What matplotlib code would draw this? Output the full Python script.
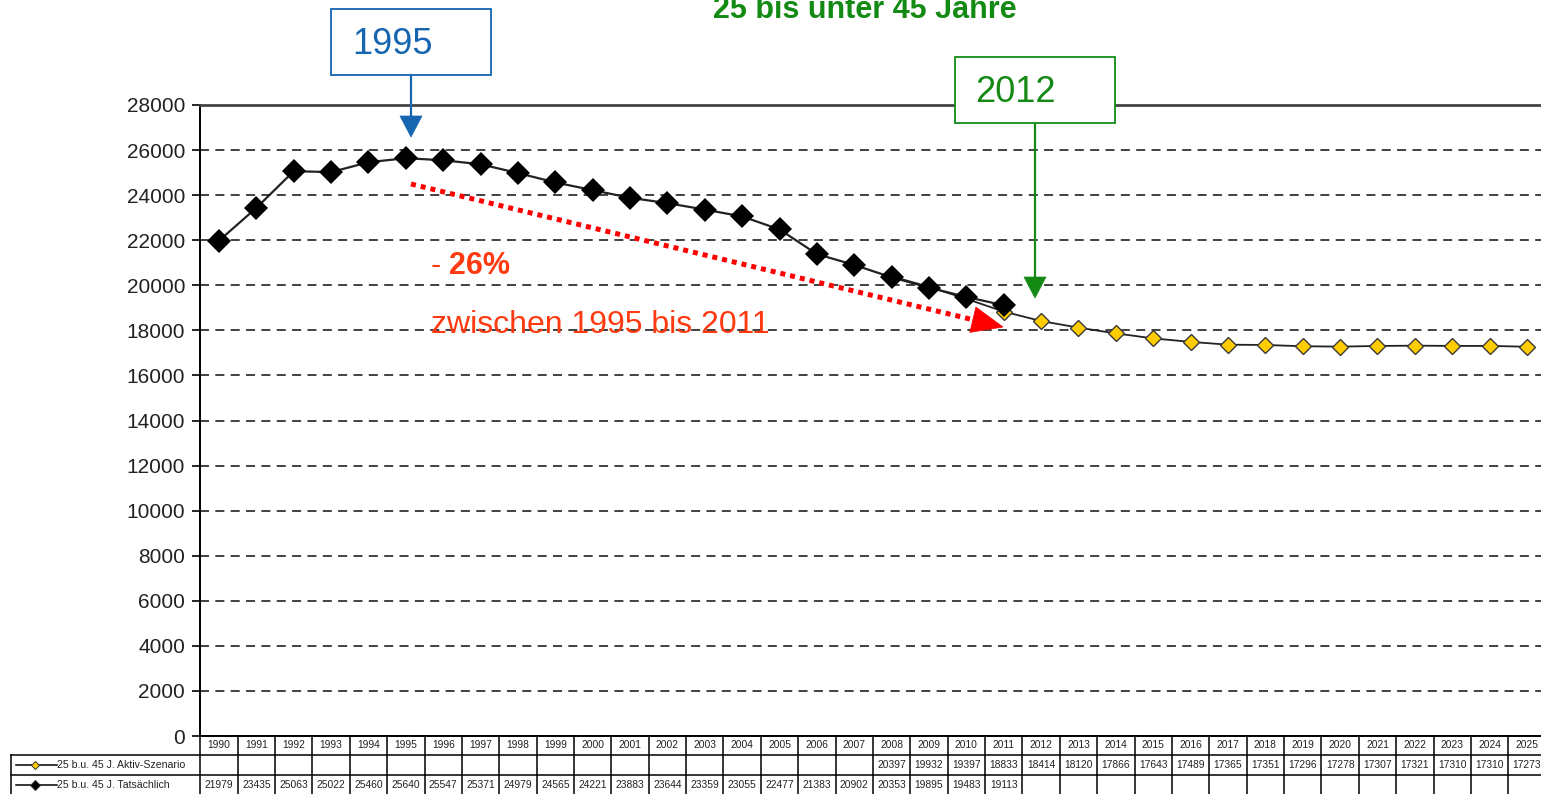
import numpy as np
import matplotlib
matplotlib.use("Agg")
import matplotlib.pyplot as plt
from matplotlib.lines import Line2D
from matplotlib.patches import Polygon, Rectangle
from matplotlib.transforms import blended_transform_factory

plt.rcParams['font.family'] = ['Liberation Sans', 'DejaVu Sans']

# === Daten ===
years = list(range(1990, 2026))

# 25 b.u. 45 J. Tatsaechlich (1990-2011)
actual_years = list(range(1990, 2012))
actual = [21979, 23435, 25063, 25022, 25460, 25640, 25547, 25371, 24979, 24565,
          24221, 23883, 23644, 23359, 23055, 22477, 21383, 20902, 20353, 19895,
          19483, 19113]

# 25 b.u. 45 J. Aktiv-Szenario (2008-2025)
scen_years = list(range(2008, 2026))
scenario = [20397, 19932, 19397, 18833, 18414, 18120, 17866, 17643, 17489, 17365,
            17351, 17296, 17278, 17307, 17321, 17310, 17310, 17273]

label_scen = "25 b.u. 45 J. Aktiv-Szenario"
label_act = "25 b.u. 45 J. Tatsächlich"
title = "25 bis unter 45 Jahre"

W, H = 1541, 794


def px(x, y):
    # Pixelkoordinaten -> Figurenkoordinaten
    return (x / W, 1 - y / H)


fig = plt.figure(figsize=(W / 100, H / 100), dpi=100)
ax_left, ax_top, ax_bot = 200.3, 105, 736
cat_w = 37.37
ax = fig.add_axes([ax_left / W, (H - ax_bot) / H, len(years) * cat_w / W, (ax_bot - ax_top) / H])

xs_act = [years.index(y) for y in actual_years]
xs_scen = [years.index(y) for y in scen_years]

ax.plot(xs_scen, scenario, color='#222222', lw=1.3, marker='D', ms=7.8,
        mfc='#FFCC00', mec='#3a3a3a', mew=1.0, zorder=3)
ax.plot(xs_act, actual, color='#222222', lw=1.6, marker='D', ms=11.8,
        mfc='black', mec='black', mew=0, zorder=4)

ax.set_xlim(-0.5, len(years) - 0.5)
ax.set_ylim(0, 28000)
ax.set_yticks(np.arange(0, 28001, 2000))
ax.set_xticks([])
ax.yaxis.grid(True, linestyle=(0, (5, 3.5)), lw=1.3, color='#333333')
ax.set_axisbelow(True)
ax.tick_params(axis='y', direction='out', length=6, width=1.2, pad=5,
               labelsize=15, labelcolor='#222222')
ax.spines['right'].set_visible(False)
ax.spines['top'].set_color('#444444')
ax.spines['top'].set_linewidth(2.0)
ax.spines['left'].set_linewidth(1.4)
ax.spines['bottom'].set_linewidth(1.4)

# === Datentabelle unter dem Diagramm ===
tr = blended_transform_factory(ax.transData, ax.transAxes)


def ay(ypix):
    return (ax_bot - ypix) / (ax_bot - ax_top)


def dx(xpix):
    return (xpix - ax_left) / cat_w - 0.5


rows = [736, 755, 775, 795]
x_end = len(years) - 0.5
leg_left = dx(11)
for i in range(len(years) + 1):
    ax.add_line(Line2D([i - 0.5, i - 0.5], [ay(rows[0]), ay(rows[3])], transform=tr,
                       color='black', lw=1.1, clip_on=False))
for r in rows[1:]:
    ax.add_line(Line2D([leg_left, x_end], [ay(r), ay(r)], transform=tr,
                       color='black', lw=1.1, clip_on=False))
ax.add_line(Line2D([leg_left, leg_left], [ay(rows[1]), ay(rows[3])], transform=tr,
                   color='black', lw=1.1, clip_on=False))

cell_font = dict(fontsize=7.4, ha='center', va='center', color='#222222', transform=tr, clip_on=False)
for i, y in enumerate(years):
    ax.text(i, ay((rows[0] + rows[1]) / 2), str(y), **cell_font)
for x, v in zip(xs_scen, scenario):
    ax.text(x, ay((rows[1] + rows[2]) / 2), str(v), **cell_font)
for x, v in zip(xs_act, actual):
    ax.text(x, ay((rows[2] + rows[3]) / 2), str(v), **cell_font)

# Legendeneintraege in der Tabelle
for r0, r1, lab, fc, ms in [(rows[1], rows[2], label_scen, '#FFCC00', 4.5),
                            (rows[2], rows[3], label_act, 'black', 5)]:
    yc = ay((r0 + r1) / 2)
    ax.add_line(Line2D([dx(16), dx(57)], [yc, yc], transform=tr, color='black',
                       lw=1.1, clip_on=False))
    ax.add_line(Line2D([dx(35)], [yc], transform=tr, marker='D', ms=ms, mfc=fc,
                       mec='#333333', mew=0.7, clip_on=False))
    ax.text(dx(57), yc, lab, fontsize=7.6, ha='left', va='center', color='#222222',
            transform=tr, clip_on=False)

# === Titel (oben abgeschnitten wie im Original) ===
fig.text(*px(865, 18), title, fontsize=22, fontweight='bold', color='#138A13',
         ha='center', va='baseline')


# === Markierungen 1995 / 2012 ===
def down_arrow(x, y0, y1, color, hw=11, hl=21):
    fig.add_artist(Line2D([x / W, x / W], [1 - y0 / H, 1 - (y1 - hl) / H],
                          color=color, lw=1.6))
    fig.add_artist(Polygon([px(x - hw, y1 - hl), px(x + hw, y1 - hl), px(x, y1)],
                           closed=True, fc=color, ec=color, lw=0.5,
                           transform=fig.transFigure))


blue = '#1565B0'
green = '#148A14'
fig.add_artist(Rectangle(px(331, 75), 160 / W, 66 / H, transform=fig.transFigure,
                         fill=True, fc='white', ec=blue, lw=1.3))
fig.text(*px(352, 44), "1995", fontsize=26, color=blue, ha='left', va='center')
down_arrow(411, 75, 137, blue)

fig.add_artist(Rectangle(px(955, 123), 160 / W, 66 / H, transform=fig.transFigure,
                         fill=True, fc='white', ec=green, lw=1.3, zorder=5))
fig.text(*px(975, 92), "2012", fontsize=26, color=green, ha='left', va='center', zorder=6)
down_arrow(1035, 123, 298, green)

# === Roter Trendpfeil ===
red = '#FF0000'
p0 = np.array([411.0, 184.0])
p1 = np.array([1003.0, 327.0])
d = (p1 - p0) / np.linalg.norm(p1 - p0)
n = np.array([-d[1], d[0]])
base = p1 - 31 * d
fig.add_artist(Line2D([p0[0] / W, base[0] / W], [1 - p0[1] / H, 1 - base[1] / H],
                      color=red, lw=3.6, linestyle=(0, (1.0, 1.0)),
                      solid_capstyle='butt', dash_capstyle='butt'))
head = [px(*(base + 13 * n)), px(*(base - 13 * n)), px(*p1)]
fig.add_artist(Polygon(head, closed=True, fc=red, ec=red, lw=0.5,
                       transform=fig.transFigure))

orange = '#FF3A10'
fig.text(*px(431, 266), "- ", fontsize=22, color=orange, ha='left', va='center')
fig.text(*px(449, 266), "26%", fontsize=22, fontweight='bold', color=orange,
         ha='left', va='center')
fig.text(*px(431, 333), "zwischen 1995 bis 2011", fontsize=23, color=orange,
         ha='left', va='baseline')

fig.savefig("out.png", dpi=100)
